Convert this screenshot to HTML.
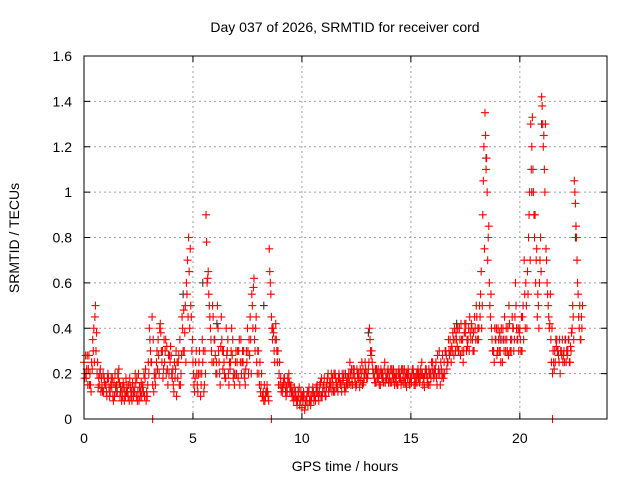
<!DOCTYPE html>
<html><head><meta charset="utf-8"><style>
body{margin:0;background:#fff;}
svg text{font-family:"Liberation Sans",sans-serif;font-size:14px;fill:#000;}
</style></head><body>
<svg id="chart" width="640" height="480" viewBox="0 0 640 480" xmlns="http://www.w3.org/2000/svg">
<text x="345" y="32" text-anchor="middle">Day 037 of 2026, SRMTID for receiver cord</text>
<text x="345" y="471" text-anchor="middle">GPS time / hours</text>
<text x="19" y="238" text-anchor="middle" transform="rotate(-90 19 238)">SRMTID / TECUs</text>
<g id="grid"></g><g id="marks"></g><g id="axes"></g>
</svg>
<script>
const xTicks=[0,5,10,15,20];
const yTicks=[0,0.2,0.4,0.6,0.8,1,1.2,1.4,1.6];
const yTickLabels=["0","0.2","0.4","0.6","0.8","1","1.2","1.4","1.6"];
const seriesA=[0.25,0.18,0.22,0.15,0.35,0.45,0.2,0.15,0.18,0.12,
0.15,0.2,0.12,0.18,0.1,0.15,0.22,0.12,0.16,0.1,
0.12,0.18,0.08,0.14,0.1,0.2,0.12,0.15,0.18,0.1,
0.4,0.25,0.12,0.2,0.35,0.42,0.3,0.25,0.32,0.2,
0.28,0.15,0.22,0.18,0.35,0.45,0.3,0.6,0.8,0.5,
0.25,0.18,0.15,0.3,0.2,0.12,0.9,0.65,0.4,0.5,
0.35,0.2,0.25,0.45,0.3,0.18,0.35,0.22,0.28,0.15,
0.2,0.3,0.35,0.25,0.15,0.4,0.28,0.55,0.62,0.45,
0.3,0.12,0.1,0.08,0.15,0.75,0.45,0.38,0.42,0.3,
0.15,0.12,0.18,0.14,0.2,0.15,0.1,0.12,0.08,0.06,
0.05,0.1,0.08,0.12,0.06,0.14,0.1,0.15,0.12,0.18,
0.15,0.1,0.2,0.14,0.18,0.12,0.16,0.2,0.15,0.18,
0.2,0.15,0.25,0.18,0.22,0.15,0.2,0.17,0.22,0.25,
0.18,0.4,0.3,0.2,0.16,0.22,0.15,0.2,0.25,0.18,
0.2,0.16,0.22,0.18,0.15,0.2,0.17,0.22,0.14,0.2,
0.18,0.22,0.15,0.2,0.16,0.25,0.18,0.22,0.15,0.2,
0.25,0.2,0.15,0.3,0.22,0.18,0.3,0.25,0.35,0.3,
0.4,0.35,0.3,0.42,0.25,0.38,0.32,0.45,0.4,0.3,
0.5,0.35,0.55,0.9,1.35,1.0,0.6,0.4,0.3,0.35,
0.4,0.3,0.25,0.45,0.35,0.5,0.3,0.4,0.6,0.35,
0.4,0.3,0.7,0.5,0.8,1.3,1.1,0.9,0.45,0.6,
1.42,1.25,0.75,0.5,0.55,0.2,0.3,0.35,0.25,0.3,
0.28,0.35,0.3,0.25,0.4,1.05,0.8,0.45,0.35];
const seriesB=[0.2,0.28,0.15,0.25,0.4,0.3,0.14,0.22,0.12,0.16,
0.1,0.14,0.18,0.08,0.14,0.2,0.1,0.14,0.08,0.12,
0.15,0.1,0.12,0.2,0.08,0.14,0.1,0.2,0.08,0.25,
0.3,0.15,0.18,0.3,0.2,0.3,0.22,0.35,0.15,0.25,
0.18,0.25,0.1,0.28,0.2,0.3,0.5,0.7,0.4,0.3,
0.15,0.3,0.2,0.1,0.25,0.3,0.6,0.5,0.3,0.25,
0.2,0.4,0.15,0.3,0.2,0.28,0.15,0.3,0.18,0.25,
0.3,0.15,0.25,0.2,0.3,0.2,0.35,0.4,0.3,0.2,
0.15,0.2,0.08,0.12,0.1,0.6,0.35,0.25,0.3,0.2,
0.12,0.16,0.12,0.18,0.12,0.1,0.14,0.08,0.1,0.12,
0.08,0.06,0.12,0.08,0.1,0.08,0.14,0.1,0.16,0.12,
0.12,0.16,0.14,0.2,0.12,0.18,0.12,0.16,0.2,0.14,
0.16,0.2,0.15,0.22,0.16,0.2,0.14,0.25,0.18,0.2,
0.22,0.3,0.22,0.16,0.2,0.15,0.2,0.16,0.2,0.22,
0.16,0.2,0.15,0.2,0.22,0.15,0.2,0.16,0.18,0.15,
0.2,0.15,0.2,0.18,0.22,0.15,0.2,0.16,0.2,0.25,
0.18,0.25,0.2,0.15,0.28,0.2,0.22,0.3,0.25,0.35,
0.3,0.4,0.35,0.3,0.38,0.3,0.4,0.35,0.3,0.4,
0.35,0.5,0.4,1.2,1.1,0.8,0.45,0.3,0.4,0.28,
0.3,0.4,0.35,0.3,0.4,0.3,0.45,0.35,0.4,0.3,
0.3,0.5,0.4,0.65,1.0,1.2,0.9,0.7,0.5,0.8,
1.3,1.0,0.6,0.4,0.25,0.25,0.35,0.3,0.2,0.35,
0.25,0.3,0.35,0.3,0.45,0.95,0.6,0.5,0.4];
const seriesC=[0.18,0.22,0.28,0.12,0.3,0.5,0.25,0.2,0.14,0.18,
0.12,0.18,0.15,0.1,0.2,0.12,0.16,0.08,0.14,0.18,
0.1,0.14,0.16,0.12,0.18,0.08,0.16,0.12,0.22,0.15,
0.35,0.45,0.2,0.25,0.28,0.38,0.18,0.3,0.22,0.28,
0.2,0.12,0.3,0.25,0.15,0.4,0.38,0.55,0.65,0.45,
0.2,0.25,0.12,0.2,0.35,0.15,0.78,0.55,0.35,0.45,
0.28,0.5,0.2,0.35,0.25,0.4,0.2,0.25,0.35,0.2,
0.25,0.35,0.2,0.3,0.22,0.3,0.45,0.5,0.35,0.25,
0.2,0.15,0.12,0.1,0.12,0.65,0.4,0.3,0.35,0.15,
0.18,0.14,0.15,0.12,0.16,0.12,0.08,0.1,0.12,0.08,
0.1,0.04,0.1,0.14,0.08,0.12,0.08,0.12,0.15,0.1,
0.18,0.14,0.12,0.16,0.15,0.2,0.14,0.18,0.12,0.2,
0.14,0.18,0.2,0.15,0.18,0.22,0.18,0.2,0.16,0.22,
0.2,0.35,0.25,0.18,0.22,0.18,0.22,0.18,0.16,0.2,
0.18,0.22,0.18,0.16,0.2,0.18,0.22,0.18,0.2,0.16,
0.16,0.2,0.18,0.22,0.18,0.2,0.14,0.2,0.22,0.18,
0.2,0.22,0.28,0.2,0.18,0.25,0.28,0.35,0.3,0.38,
0.35,0.32,0.4,0.35,0.3,0.42,0.35,0.38,0.35,0.45,
0.45,0.4,0.65,1.05,1.25,0.7,0.5,0.35,0.25,0.4,
0.35,0.25,0.4,0.35,0.3,0.42,0.35,0.3,0.5,0.4,
0.35,0.45,0.55,0.4,0.9,1.1,1.0,0.6,0.55,0.7,
1.38,1.1,0.7,0.45,0.35,0.3,0.25,0.3,0.35,0.28,
0.3,0.25,0.35,0.32,0.5,1.0,0.7,0.4,0.45];
const seriesD=[0.28,0.15,0.2,0.22,0.25,0.38,0.18,0.12,0.2,0.15,
0.18,0.1,0.14,0.16,0.12,0.18,0.14,0.1,0.12,0.15,
0.08,0.12,0.1,0.16,0.12,0.1,0.14,0.1,0.12,0.2,
0.25,0.35,0.15,0.22,0.4,0.25,0.35,0.2,0.28,0.32,
0.22,0.18,0.25,0.15,0.28,0.48,0.25,0.45,0.75,0.35,
0.12,0.2,0.25,0.15,0.3,0.2,0.62,0.45,0.25,0.35,
0.25,0.3,0.32,0.22,0.18,0.3,0.25,0.4,0.2,0.3,
0.18,0.25,0.3,0.18,0.25,0.35,0.2,0.58,0.4,0.3,
0.25,0.1,0.15,0.12,0.08,0.55,0.4,0.35,0.25,0.25,
0.14,0.18,0.1,0.16,0.14,0.12,0.1,0.06,0.14,0.1,
0.12,0.08,0.06,0.1,0.12,0.1,0.12,0.08,0.1,0.14,
0.1,0.18,0.16,0.12,0.2,0.14,0.18,0.15,0.17,0.12,
0.18,0.16,0.22,0.2,0.14,0.18,0.22,0.15,0.2,0.18,
0.25,0.28,0.2,0.22,0.18,0.2,0.18,0.22,0.18,0.16,
0.22,0.18,0.2,0.15,0.18,0.22,0.16,0.2,0.22,0.18,
0.22,0.18,0.16,0.2,0.2,0.18,0.22,0.18,0.15,0.22,
0.22,0.18,0.22,0.25,0.2,0.3,0.25,0.28,0.32,0.28,
0.38,0.3,0.28,0.35,0.42,0.35,0.3,0.42,0.38,0.35,
0.4,0.45,0.5,0.75,1.15,0.85,0.55,0.3,0.35,0.3,
0.38,0.35,0.3,0.4,0.28,0.35,0.4,0.45,0.35,0.38,
0.45,0.35,0.6,0.55,0.7,1.33,0.8,0.75,0.4,0.65,
1.2,1.3,0.55,0.42,0.4,0.22,0.32,0.28,0.3,0.25,
0.35,0.28,0.25,0.38,0.35,0.85,0.55,0.35,0.5];
const zeroTimes=[3.15,8.6,21.5];
const zeroValues=[0,0,0];
const blackTimes=[4.55,5.45,6.1,8.25,13.05,17.1,18.45,19.1,20.55,21.0,22.55];
const blackValues=[0.55,0.6,0.42,0.5,0.38,0.42,1.15,0.35,1.0,1.3,0.8];
const L=84,R=607,T=56,B=419,XMAX=24,YMAX=1.6;
const xs=v=>L+v/XMAX*(R-L), ys=v=>B-v/YMAX*(B-T);
const NS="http://www.w3.org/2000/svg";
function mk(tag,parent,attrs){const e=document.createElementNS(NS,tag);for(const k in attrs)e.setAttribute(k,attrs[k]);parent.appendChild(e);return e;}
const grid=document.getElementById('grid'),axes=document.getElementById('axes'),marks=document.getElementById('marks');
xTicks.forEach(t=>{const x=xs(t);
 if(t>0){const g=mk('line',grid,{x1:x,x2:x,y1:T,y2:B,stroke:'#a0a0a0','stroke-dasharray':'2,3'});}
 const tk=mk('path',axes,{d:`M${x},${B}v-6M${x},${T}v6`,stroke:'#000'});
 const lb=mk('text',axes,{x:x,y:B+24,'text-anchor':'middle'});lb.textContent=t;});
yTicks.forEach((t,i)=>{const y=ys(t);
 if(t>0&&t<YMAX){const g=mk('line',grid,{x1:L,x2:R,y1:y,y2:y,stroke:'#a0a0a0','stroke-dasharray':'2,3'});}
 const tk=mk('path',axes,{d:`M${L},${y}h6M${R},${y}h-6`,stroke:'#000'});
 const lb=mk('text',axes,{x:L-12,y:y+5,'text-anchor':'end'});lb.textContent=yTickLabels[i];});
const fr=mk('rect',axes,{x:L,y:T,width:R-L,height:B-T,fill:'none',stroke:'#000'});

function plus(t,v,c){const x=xs(t),y=ys(v);
 const p=mk('path',marks,{d:`M${x-4},${y}h8M${x},${y-4}v8`,stroke:c,'stroke-width':1.1});
 
 }
blackTimes.forEach((t,i)=>plus(t,blackValues[i],'#333'));
seriesA.forEach((v,i)=>plus(i*0.1,v,'#ff0000'));
seriesB.forEach((v,i)=>plus(i*0.1+0.05,v,'#ff0000'));
seriesC.forEach((v,i)=>plus(i*0.1+0.025,v,'#ff0000'));
seriesD.forEach((v,i)=>plus(i*0.1+0.075,v,'#ff0000'));
zeroTimes.forEach((t,i)=>plus(t,zeroValues[i],'#ff0000'));
</script>
</body></html>
